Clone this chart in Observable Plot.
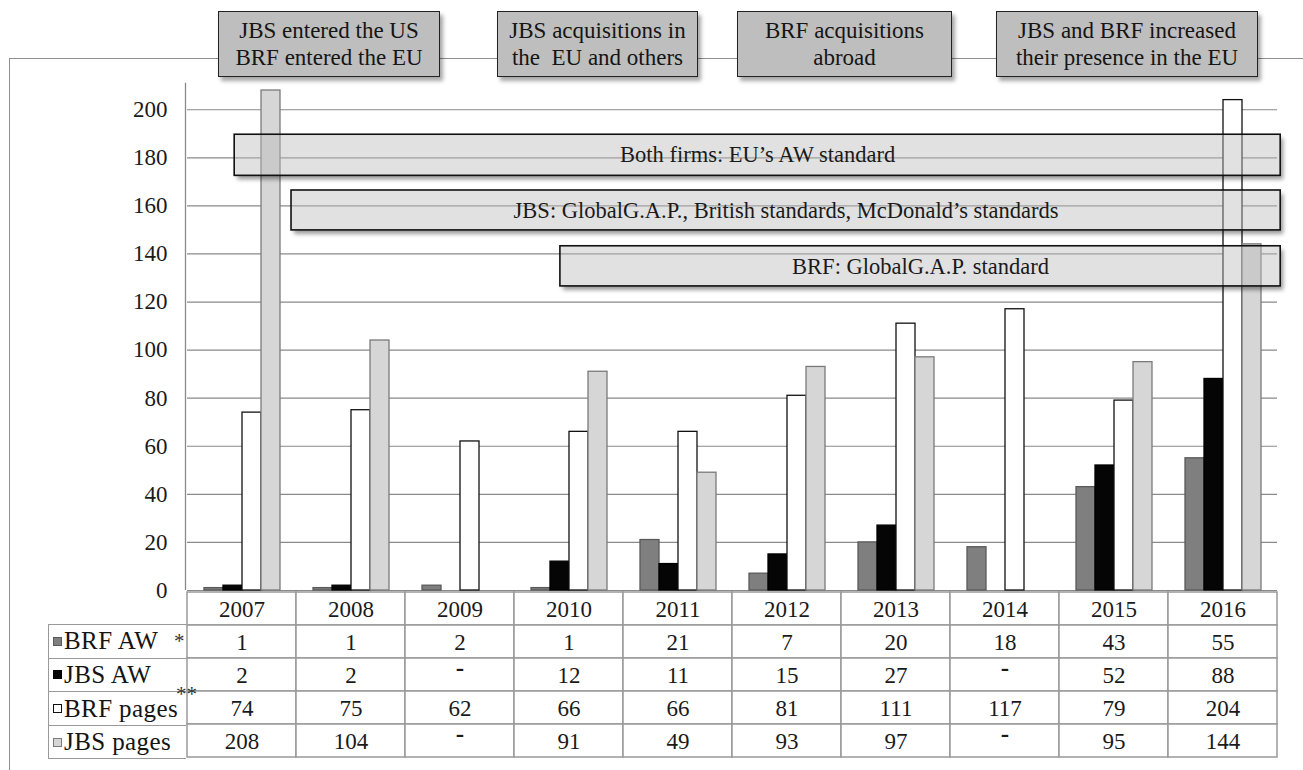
<!DOCTYPE html>
<html><head><meta charset="utf-8">
<script src="https://cdn.jsdelivr.net/npm/d3@7"></script>
<script src="https://cdn.jsdelivr.net/npm/@observablehq/plot@0.6"></script>
<style>
html,body{margin:0;padding:0;background:#fff;}
#root{position:relative;width:1303px;height:770px;overflow:hidden;font-family:"Liberation Serif","Times New Roman",serif;color:#151515;}
.frame{position:absolute;left:9px;top:58px;width:1400px;height:800px;border-left:1.5px solid #8f8f8f;border-top:1.5px solid #8f8f8f;}
.event{position:absolute;top:11px;height:66px;background:#bebebe;border:1.5px solid #222;box-shadow:3px 4px 4px rgba(0,0,0,0.35);display:flex;align-items:center;justify-content:center;text-align:center;font-size:23px;line-height:27px;white-space:pre;box-sizing:border-box;}
.lab{position:absolute;left:48px;width:138px;box-sizing:border-box;border-left:1.5px solid #999;border-top:1.5px solid #999;font-size:25px;letter-spacing:0.4px;display:flex;align-items:center;padding-left:4px;white-space:nowrap;}
.sw{display:inline-block;width:9px;height:9px;margin-right:2px;box-sizing:border-box;}
.star{position:absolute;font-size:21px;color:#333;}
</style>
</head><body>
<svg width="0" height="0" style="position:absolute">
  <defs>
    <filter id="shOut" x="-5%" y="-60%" width="112%" height="220%">
      <feGaussianBlur in="SourceAlpha" stdDeviation="2.2" result="blur"/>
      <feOffset in="blur" dx="3" dy="4" result="off"/>
      <feComposite in="off" in2="SourceAlpha" operator="out" result="cut"/>
      <feComponentTransfer in="cut"><feFuncA type="linear" slope="0.4"/></feComponentTransfer>
    </filter>
  </defs>
</svg>
<div id="root"></div>
<script>
// ---- data ----
const years = [2007, 2008, 2009, 2010, 2011, 2012, 2013, 2014, 2015, 2016];
const seriesNames = ["BRF AW", "JBS AW", "BRF pages", "JBS pages"];
const brfAW = [1, 1, 2, 1, 21, 7, 20, 18, 43, 55];
const jbsAW = [2, 2, null, 12, 11, 15, 27, null, 52, 88];
const brfPages = [74, 75, 62, 66, 66, 81, 111, 117, 79, 204];
const jbsPages = [208, 104, null, 91, 49, 93, 97, null, 95, 144];
const yTicks = [0, 20, 40, 60, 80, 100, 120, 140, 160, 180, 200];
const eventLabels = ["JBS entered the US\nBRF entered the EU", "JBS acquisitions in\nthe  EU and others", "BRF acquisitions\nabroad", "JBS and BRF increased\ntheir presence in the EU"];
const bandLabels = ["Both firms: EU\u2019s AW standard", "JBS: GlobalG.A.P., British standards, McDonald\u2019s standards", "BRF: GlobalG.A.P. standard"];
const bandStart = [2006.95, 2007.47, 2009.93];
const bandEnd = [2016.52, 2016.52, 2016.52];
const bandLow = [172.5, 149.8, 126.5];
const bandHigh = [189.6, 166.4, 143.2];

// ---- styles (not data) ----
const seriesValues = [brfAW, jbsAW, brfPages, jbsPages];
const fills = ["#7f7f7f", "#050505", "#ffffff", "#d6d6d6"];
const strokes = ["#5a5a5a", "#000000", "#111111", "#7a7a7a"];
const eventBoxes = [[218, 440], [497, 698], [737, 952], [996, 1258]];
const FONT = "Liberation Serif, Times New Roman, serif";

const rows = [];
seriesNames.forEach((s, i) => years.forEach((y, j) => rows.push({year: y, series: s, value: seriesValues[i][j]})));
const bands = bandLabels.map((l, i) => ({label: l, x1: bandStart[i], x2: bandEnd[i], y1: bandLow[i], y2: bandHigh[i]}));

const root = document.getElementById("root");
const fr = document.createElement("div"); fr.className = "frame"; root.appendChild(fr);
eventLabels.forEach((t, i) => {
  const d = document.createElement("div"); d.className = "event";
  d.style.left = eventBoxes[i][0] + "px"; d.style.width = (eventBoxes[i][1] - eventBoxes[i][0]) + "px";
  d.textContent = t; root.appendChild(d);
});

const W = 1303, ML = 185, MR = 25;
// bars
const barPlot = Plot.plot({
  width: W, height: 511, marginTop: 10, marginBottom: 1, marginLeft: ML, marginRight: MR,
  style: {background: "transparent", overflow: "visible", fontFamily: FONT},
  fx: {domain: years, padding: 0, axis: null},
  x: {domain: seriesNames, paddingInner: 0, paddingOuter: 0.775, axis: null},
  y: {domain: [0, 208], axis: null},
  marks: [
    Plot.ruleY(yTicks, {stroke: "#8a8a8a", strokeWidth: 1.2}),
    ...seriesNames.map((s, i) => Plot.barY(rows.filter(d => d.series === s && d.value != null), {
      fx: "year", x: "series", y: "value", fill: fills[i], stroke: strokes[i], strokeWidth: 1.3
    }))
  ]
});
barPlot.style.position = "absolute"; barPlot.style.left = "0px"; barPlot.style.top = "80px";
root.appendChild(barPlot);

// overlay: axis + annotation bands
const ov = Plot.plot({
  width: W, height: 511, marginTop: 10, marginBottom: 1, marginLeft: ML, marginRight: MR,
  style: {background: "transparent", overflow: "visible", fontFamily: FONT},
  x: {domain: [years[0] - 0.5, years[years.length - 1] + 0.5], axis: null},
  y: {domain: [0, 208], axis: null},
  marks: [
    Plot.ruleX([years[0] - 0.5], {y1: 0, y2: 211, stroke: "#8a8a8a", strokeWidth: 1.3}),
    Plot.axisY(yTicks, {tickSize: 0, tickPadding: 18, fontSize: 23, fill: "#1a1a1a", tickFormat: d => String(d)}),
    Plot.rect(bands, {x1: "x1", x2: "x2", y1: "y1", y2: "y2", fill: "black"}),
    Plot.rect(bands, {x1: "x1", x2: "x2", y1: "y1", y2: "y2", fill: "#bcbcbc", fillOpacity: 0.45, stroke: "#111", strokeWidth: 1.6}),
    Plot.text(bands, {x: d => (d.x1 + d.x2) / 2, y: d => (d.y1 + d.y2) / 2, text: "label", fontSize: 22.5, fill: "#1a1a1a"})
  ]
});
ov.style.position = "absolute"; ov.style.left = "0px"; ov.style.top = "80px";
const rectGroups = ov.querySelectorAll('g[aria-label="rect"]');
if (rectGroups.length) rectGroups[0].setAttribute("filter", "url(#shOut)");
root.appendChild(ov);

// table
const rowKeys = ["year", ...seriesNames];
const cells = [];
years.forEach((y, j) => {
  cells.push({year: y, row: "year", text: String(y), missing: false});
  seriesNames.forEach((s, i) => {
    const v = seriesValues[i][j];
    cells.push({year: y, row: s, text: v == null ? "-" : String(v), missing: v == null});
  });
});
const tbl = Plot.plot({
  width: W, height: 170, marginTop: 0, marginBottom: 1, marginLeft: ML, marginRight: MR,
  style: {background: "transparent", overflow: "visible", fontFamily: FONT},
  x: {domain: years, padding: 0, axis: null},
  y: {domain: rowKeys, padding: 0, axis: null},
  marks: [
    Plot.cell(cells, {x: "year", y: "row", fill: "white", stroke: "#999", strokeWidth: 1.5, inset: 0}),
    Plot.text(cells.filter(d => !d.missing), {x: "year", y: "row", text: "text", fontSize: 23, fill: "#1a1a1a", dy: 1}),
    Plot.text(cells.filter(d => d.missing), {x: "year", y: "row", text: "text", fontSize: 25, fontWeight: "bold", fill: "#1a1a1a", dy: -7})
  ]
});
tbl.style.position = "absolute"; tbl.style.left = "0px"; tbl.style.top = "590px";
root.appendChild(tbl);

// row labels (legend column)
const rowH = 169 / rowKeys.length;
seriesNames.forEach((s, i) => {
  const d = document.createElement("div"); d.className = "lab";
  d.style.top = (590 + rowH * (i + 1)) + "px"; d.style.height = rowH + "px";
  if (i === seriesNames.length - 1) d.style.borderBottom = "1.5px solid #999";
  const sw = document.createElement("span"); sw.className = "sw";
  sw.style.background = fills[i]; sw.style.border = "1px solid " + strokes[i];
  d.appendChild(sw); d.appendChild(document.createTextNode(s));
  root.appendChild(d);
});
const st1 = document.createElement("div"); st1.className = "star"; st1.textContent = "*";
st1.style.left = "174px"; st1.style.top = (590 + rowH * 1.5 - 12) + "px"; root.appendChild(st1);
const st2 = document.createElement("div"); st2.className = "star"; st2.textContent = "**";
st2.style.left = "176px"; st2.style.top = (590 + rowH * 3 - 9) + "px"; root.appendChild(st2);
</script>
</body></html>
